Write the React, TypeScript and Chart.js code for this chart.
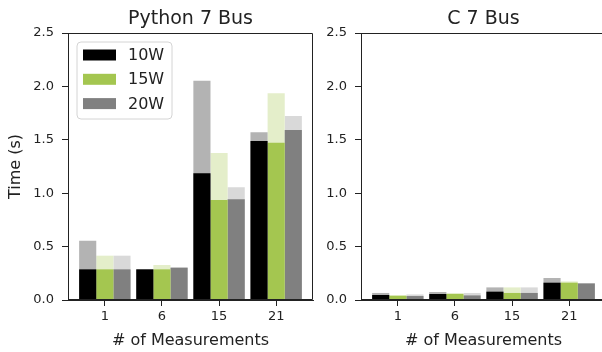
import React, { useEffect, useRef } from "react";
import { Chart, registerables } from "chart.js";

Chart.register(...registerables);
Chart.defaults.font.family = "'DejaVu Sans', sans-serif";
Chart.defaults.color = "#222222";

const categories = ["1", "6", "15", "21"];
const seriesNames = ["10W", "15W", "20W"];
const seriesColors = ["#000000", "#a4c650", "#808080"];
const lightColors = ["#b3b3b3", "#e4eeca", "#d9d9d9"];
const yTicks = [0, 0.5, 1.0, 1.5, 2.0, 2.5];

// Python 7 Bus (dark = lower value, light = upper value)
const py10W = [0.287, 0.287, 1.186, 1.489];
const py10WMax = [0.555, 0.287, 2.053, 1.57];
const py15W = [0.287, 0.287, 0.936, 1.473];
const py15WMax = [0.415, 0.328, 1.376, 1.935];
const py20W = [0.287, 0.303, 0.943, 1.592];
const py20WMax = [0.415, 0.303, 1.055, 1.723];

// C 7 Bus
const c10W = [0.047, 0.056, 0.078, 0.162];
const c10WMax = [0.066, 0.075, 0.118, 0.206];
const c15W = [0.04, 0.056, 0.066, 0.162];
const c15WMax = [0.043, 0.066, 0.118, 0.174];
const c20W = [0.037, 0.043, 0.066, 0.155];
const c20WMax = [0.052, 0.066, 0.118, 0.158];

const AXIS = "#222222";

function buildDatasets(lows: number[][], highs: number[][]) {
  const mk = (vals: number[]) => categories.map((_, i) => ({ x: i, y: vals[i] }));
  const dark = seriesNames.map((name, s) => ({
    label: name,
    data: mk(lows[s]),
    backgroundColor: seriesColors[s],
    stack: name,
    borderWidth: 0,
    barPercentage: 1,
    categoryPercentage: 0.9,
  }));
  const light = seriesNames.map((name, s) => ({
    label: name + " (upper)",
    data: mk(highs[s]),
    backgroundColor: lightColors[s],
    stack: name,
    borderWidth: 0,
    barPercentage: 1,
    categoryPercentage: 0.9,
  }));
  return [...dark, ...light];
}

const framePlugin = {
  id: "axesFrame",
  afterDraw(chart: any) {
    const ctx = chart.ctx;
    const ca = chart.chartArea;
    ctx.save();
    ctx.strokeStyle = AXIS;
    ctx.lineWidth = 1;
    const l = Math.round(ca.left) + 0.5;
    const t = Math.round(ca.top) + 0.5;
    const r = Math.round(ca.right) - 0.5;
    const b = Math.round(ca.bottom) - 0.5;
    ctx.beginPath();
    ctx.moveTo(l, b);
    ctx.lineTo(l, t);
    ctx.lineTo(r, t);
    ctx.lineTo(r, b);
    ctx.lineTo(l, b);
    ctx.stroke();
    ctx.restore();
  },
};

const legendPlugin = {
  id: "boxLegend",
  afterDraw(chart: any, _args: any, opts: any) {
    if (!opts || !opts.show) return;
    const { ctx, chartArea } = chart;
    const x0 = chartArea.left + 9;
    const y0 = chartArea.top + 9;
    const w = 95;
    const h = 77;
    ctx.save();
    ctx.beginPath();
    const r = 4;
    ctx.moveTo(x0 + r, y0);
    ctx.arcTo(x0 + w, y0, x0 + w, y0 + h, r);
    ctx.arcTo(x0 + w, y0 + h, x0, y0 + h, r);
    ctx.arcTo(x0, y0 + h, x0, y0, r);
    ctx.arcTo(x0, y0, x0 + w, y0, r);
    ctx.closePath();
    ctx.fillStyle = "rgba(255,255,255,0.85)";
    ctx.fill();
    ctx.strokeStyle = "#d4d4d4";
    ctx.lineWidth = 1;
    ctx.stroke();
    ctx.font = "16px 'DejaVu Sans'";
    ctx.textBaseline = "middle";
    ctx.textAlign = "left";
    seriesNames.forEach((name, i) => {
      const cy = y0 + 13 + i * 24.3;
      ctx.fillStyle = seriesColors[i];
      ctx.fillRect(x0 + 6, cy - 5.5, 33, 11);
      ctx.fillStyle = "#222222";
      ctx.fillText(name, x0 + 51, cy + 1);
    });
    ctx.restore();
  },
};

function makeConfig(title: string, lows: number[][], highs: number[][], yWidth: number, yTitle: string, padRight: number, showLegend: boolean) {
  return {
    type: "bar" as const,
    data: { datasets: buildDatasets(lows, highs) },
    plugins: [framePlugin, legendPlugin],
    options: {
      animation: false,
      responsive: false,
      maintainAspectRatio: false,
      layout: { padding: { left: 0, right: padRight, top: 0, bottom: 0 } },
      plugins: {
        legend: { display: false },
        tooltip: { enabled: false },
        title: {
          display: true,
          text: title,
          fullSize: false,
          font: { size: 19, weight: "normal" },
          color: "#222222",
          padding: { top: 8, bottom: 2.2 },
        },
        boxLegend: { show: showLegend },
      },
      scales: {
        x: {
          type: "linear",
          min: -0.645,
          max: 3.645,
          offset: false,
          grace: 0,
          stacked: true,
          afterBuildTicks: (s: any) => {
            s.ticks = categories.map((_, i) => ({ value: i }));
          },
          afterFit: (s: any) => {
            s.height = 52;
          },
          ticks: {
            autoSkip: false,
            maxRotation: 0,
            padding: 3,
            font: { size: 13 },
            color: "#222222",
            callback: (_v: any, i: number) => categories[i],
          },
          grid: { offset: false, drawOnChartArea: false, drawTicks: true, tickLength: 6, color: AXIS },
          border: { display: true, color: AXIS, width: 1 },
          title: {
            display: true,
            text: "# of Measurements",
            font: { size: 16 },
            color: "#222222",
            padding: { top: 0, bottom: 2 },
          },
        },
        y: {
          type: "linear",
          min: 0,
          max: 2.5,
          stacked: false,
          afterBuildTicks: (s: any) => {
            s.ticks = yTicks.map((v) => ({ value: v }));
          },
          afterFit: (s: any) => {
            s.width = yWidth;
          },
          ticks: {
            padding: 8,
            font: { size: 13 },
            color: "#222222",
            callback: (v: any) => Number(v).toFixed(1),
          },
          grid: { drawOnChartArea: false, drawTicks: true, tickLength: 6, color: AXIS },
          border: { display: true, color: AXIS, width: 1 },
          title: {
            display: yTitle !== "",
            text: yTitle,
            font: { size: 16 },
            color: "#222222",
            padding: { top: 6, bottom: 0 },
          },
        },
      },
    },
  };
}

function ChartCanvas({ config, left, width }: { config: any; left: number; width: number }) {
  const ref = useRef<HTMLCanvasElement | null>(null);
  useEffect(() => {
    if (!ref.current) return;
    const chart = new Chart(ref.current, config);
    return () => chart.destroy();
  }, [config]);
  return (
    <canvas
      ref={ref}
      width={width}
      height={352}
      style={{ position: "absolute", left, top: 0, width, height: 352 }}
    />
  );
}

const pyConfig = makeConfig(
  "Python 7 Bus",
  [py10W, py15W, py20W],
  [py10WMax, py15WMax, py20WMax],
  68,
  "Time (s)",
  3,
  true
);
const cConfig = makeConfig(
  "C 7 Bus",
  [c10W, c15W, c20W],
  [c10WMax, c15WMax, c20WMax],
  45,
  "",
  0,
  false
);

export default function App() {
  return (
    <div
      style={{
        position: "fixed",
        left: 0,
        top: 0,
        width: 602,
        height: 352,
        overflow: "hidden",
        background: "#ffffff",
      }}
    >
      <ChartCanvas config={pyConfig} left={0} width={316} />
      <ChartCanvas config={cConfig} left={316} width={290} />
    </div>
  );
}
